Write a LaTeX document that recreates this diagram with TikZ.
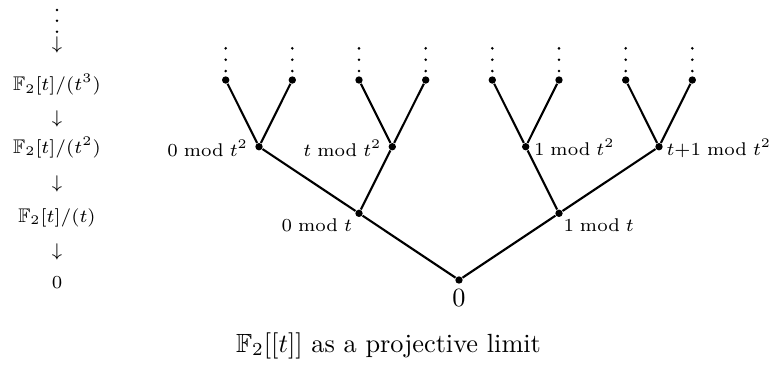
\documentclass[tikz,border=0pt]{standalone}
\usepackage{amssymb}
\begin{document}
\begin{tikzpicture}[x=0.3802pt,y=-0.3802pt,
  dot/.style={circle,fill=black,inner sep=0pt,minimum size=2.8pt},
  edge/.style={line width=0.8pt},
  lab/.style={font=\fontsize{7.5}{9}\selectfont,inner sep=0pt},
  big/.style={font=\normalsize,inner sep=0pt}]
\useasboundingbox (0,0) rectangle (773,365);

% tree nodes
\node[dot] (r) at (459,280) {};
\node[dot] (a0) at (359,213.3) {};
\node[dot] (a1) at (559,213.3) {};
\node[dot] (b00) at (259,146.7) {};
\node[dot] (b01) at (392.3,146.7) {};
\node[dot] (b10) at (525.7,146.7) {};
\node[dot] (b11) at (659,146.7) {};
\foreach \n/\x in {c000/225.7,c001/292.3,c010/359,c011/425.7,c100/492.3,c101/559,c110/625.7,c111/692.3}{
  \node[dot] (\n) at (\x,80) {};
  \foreach \yy in {48.3,59.7,71}{\fill (\x,\yy) circle (0.55pt);}
}

% edges
\foreach \p/\c in {r/a0,r/a1,a0/b00,a0/b01,a1/b10,a1/b11,
  b00/c000,b00/c001,b01/c010,b01/c011,b10/c100,b10/c101,b11/c110,b11/c111}{
  \draw[edge] (\p) -- (\c);
}

% labels
\node[lab,anchor=base east] (l00) at (248.5,156) {$0 \bmod t^2$};
\node[lab,anchor=base east] (l01) at (382,156) {$t \bmod t^2$};
\node[lab,anchor=base west] (l10) at (533.5,155.5) {$1 \bmod t^2$};
\node[lab,anchor=base west] (l11) at (666,155.5) {$t{+}1 \bmod t^2$};
\node[lab,anchor=base east] (l0) at (352.5,231.5) {$0 \bmod t$};
\node[lab,anchor=base west] (l1) at (563,231.5) {$1 \bmod t$};
\node[big,anchor=base] (lr) at (459,306.5) {$0$};

% caption
\node[big,anchor=base] (cap) at (388.5,352) {$\mathbb{F}_2[[t]]$ as a projective limit};

% left column
\foreach \yy in {10,20.7,31.7}{\fill (57,\yy) circle (0.55pt);}
\node[lab,anchor=base] (d3) at (57,49) {$\downarrow$};
\node[lab,anchor=base] (q3) at (57,90.7) {$\mathbb{F}_2[t]/(t^3)$};
\node[lab,anchor=base] (d2) at (57,123) {$\downarrow$};
\node[lab,anchor=base] (q2) at (57,153) {$\mathbb{F}_2[t]/(t^2)$};
\node[lab,anchor=base] (d1) at (57,188) {$\downarrow$};
\node[lab,anchor=base] (q1) at (57,222) {$\mathbb{F}_2[t]/(t)$};
\node[lab,anchor=base] (d0) at (57,256) {$\downarrow$};
\node[lab,anchor=base] (q0) at (57,288) {$0$};
\end{tikzpicture}
\end{document}
